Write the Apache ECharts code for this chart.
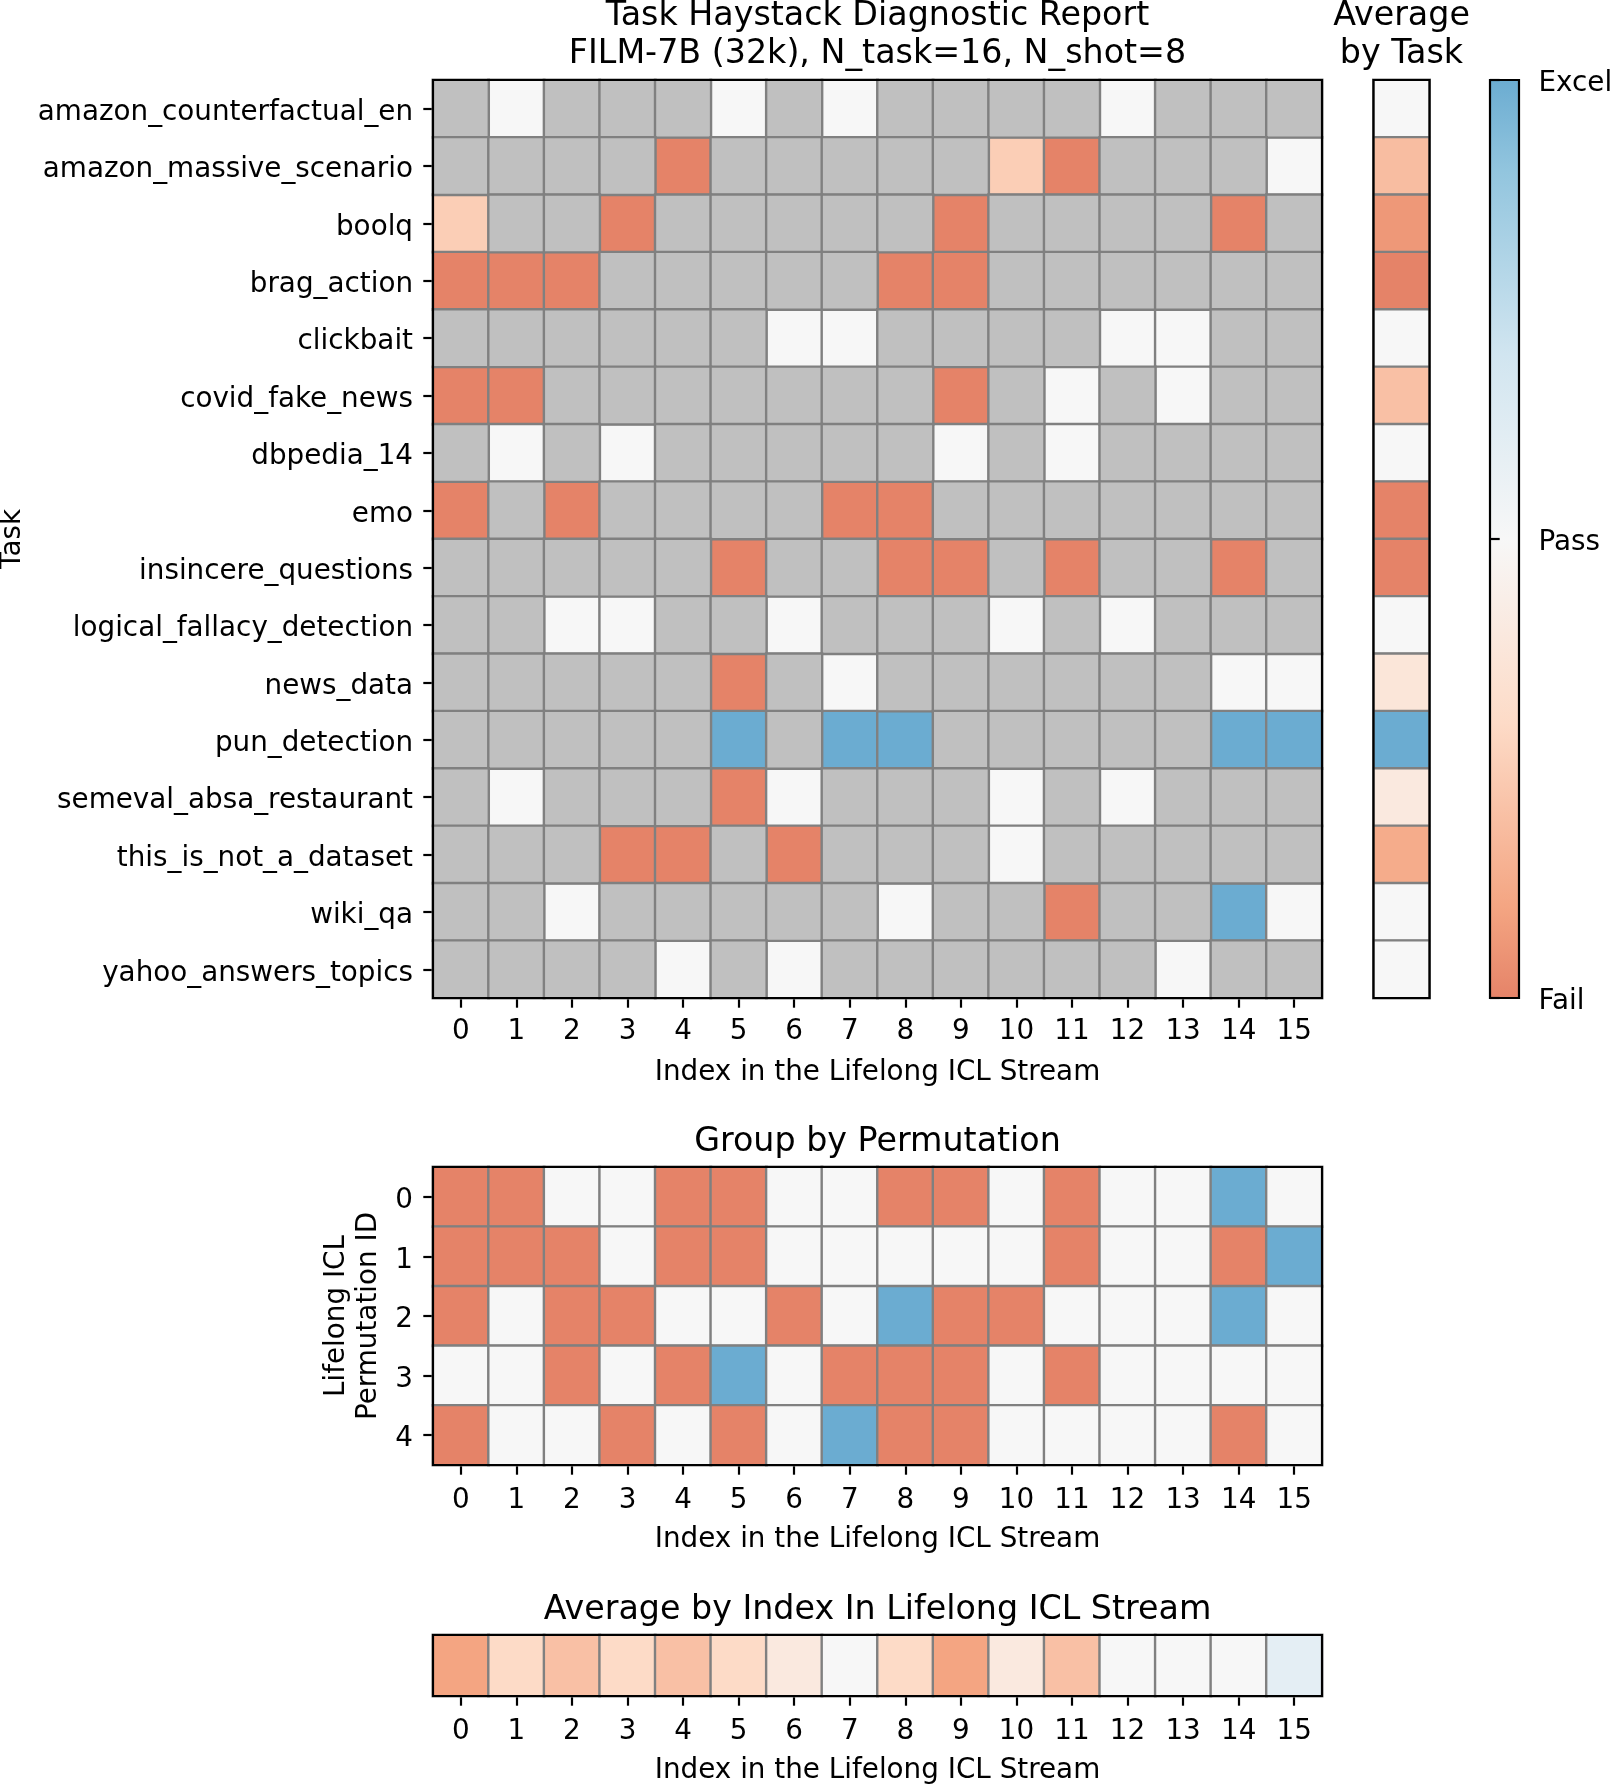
<!DOCTYPE html>
<html>
<head>
<meta charset="utf-8">
<script src="https://cdn.jsdelivr.net/npm/echarts@6/dist/echarts.min.js"></script>
<style>
html,body{margin:0;padding:0;background:#ffffff;}
#chart{width:1611px;height:1784px;}
</style>
</head>
<body>
<div id="chart"></div>
<script>
// ---------------- data ----------------
const tasks = [
  'amazon_counterfactual_en','amazon_massive_scenario','boolq','brag_action',
  'clickbait','covid_fake_news','dbpedia_14','emo','insincere_questions',
  'logical_fallacy_detection','news_data','pun_detection','semeval_absa_restaurant',
  'this_is_not_a_dataset','wiki_qa','yahoo_answers_topics'
];
const streamIndices = ['0','1','2','3','4','5','6','7','8','9','10','11','12','13','14','15'];
const permutationIds = ['0','1','2','3','4'];
const averageColumnLabel = [''];
const averageRowLabel = [''];

// -1 = Fail, 0 = Pass, 1 = Excel, null = task not at this index
const F = -1, P = 0, E = 1, N = null;
const taskIndexScores = [
  [N,P,N,N,N,P,N,P,N,N,N,N,P,N,N,N],
  [N,N,N,N,F,N,N,N,N,N,-0.5,F,N,N,N,P],
  [-0.5,N,N,F,N,N,N,N,N,F,N,N,N,N,F,N],
  [F,F,F,N,N,N,N,N,F,F,N,N,N,N,N,N],
  [N,N,N,N,N,N,P,P,N,N,N,N,P,P,N,N],
  [F,F,N,N,N,N,N,N,N,F,N,P,N,P,N,N],
  [N,P,N,P,N,N,N,N,N,P,N,P,N,N,N,N],
  [F,N,F,N,N,N,N,F,F,N,N,N,N,N,N,N],
  [N,N,N,N,N,F,N,N,F,F,N,F,N,N,F,N],
  [N,N,P,P,N,N,P,N,N,N,P,N,P,N,N,N],
  [N,N,N,N,N,F,N,P,N,N,N,N,N,N,P,P],
  [N,N,N,N,N,E,N,E,E,N,N,N,N,N,E,E],
  [N,P,N,N,N,F,P,N,N,N,P,N,P,N,N,N],
  [N,N,N,F,F,N,F,N,N,N,P,N,N,N,N,N],
  [N,N,P,N,N,N,N,N,P,N,N,F,N,N,E,P],
  [N,N,N,N,P,N,P,N,N,N,N,N,N,P,N,N]
];
const permutationIndexScores = [
  [F,F,P,P,F,F,P,P,F,F,P,F,P,P,E,P],
  [F,F,F,P,F,F,P,P,P,P,P,F,P,P,F,E],
  [F,P,F,F,P,P,F,P,E,F,F,P,P,P,E,P],
  [P,P,F,P,F,E,P,F,F,F,P,F,P,P,P,P],
  [F,P,P,F,P,F,P,E,F,F,P,P,P,P,F,P]
];
const averageByTask = [0,-0.625,-0.875,-1,0,-0.6,0,-1,-1,0,-0.25,1,-0.2,-0.75,0,0];
const averageByIndex = [-0.8,-0.4,-0.6,-0.4,-0.6,-0.4,-0.2,0,-0.4,-0.8,-0.2,-0.6,0,0,0,0.2];
const colorbarTickValues = [-1, 0, 1];
const colorbarTickLabels = ['Fail', 'Pass', 'Excel'];

// ---------------- build ----------------
const FONT = 'DejaVu Sans';
const FS = 27.8;
const TFS = 33.3;
// RdBu restricted to [0.25, 0.75], sampled every 0.2 of value range
const rampColors = ['#e58368','#f4a582','#f9c0a5','#fddbc7','#fae9df','#f7f7f7',
                    '#e4eef4','#d1e5f0','#b2d5e7','#92c5de','#6bacd1'];

const mainColored = [], mainMissing = [];
taskIndexScores.forEach((row, y) => row.forEach((v, x) => {
  if (v === null) mainMissing.push([x, y, 0]); else mainColored.push([x, y, v]);
}));
const permData = [];
permutationIndexScores.forEach((row, y) => row.forEach((v, x) => permData.push([x, y, v])));
const avgTaskData = averageByTask.map((v, y) => [0, y, v]);
const avgIndexData = averageByIndex.map((v, x) => [x, 0, v]);

const frame = {show: true, borderColor: '#000', borderWidth: 2.2, backgroundColor: 'transparent',
               z: 10, containLabel: false, outerBoundsMode: 'none'};
const hidden = {axisLine: {show: false}, axisTick: {show: false}, axisLabel: {show: false},
                splitLine: {show: false}, splitArea: {show: false}};
const tick = {show: true, alignWithLabel: true, interval: 0, inside: false, length: 9.7,
              lineStyle: {color: '#000', width: 2.2}};
const label = m => ({show: true, interval: 0, margin: m, fontSize: FS, fontFamily: FONT, color: '#000'});
// small line box anchored at the tick nudges glyphs slightly below the tick centre
const ylabel = (m, lh) => Object.assign(label(m), {verticalAlign: 'top', lineHeight: lh});
const nameStyle = {fontSize: FS, fontFamily: FONT, color: '#000'};
const cellStyle = {borderColor: '#808080', borderWidth: 2.4};
const xName = 'Index in the Lifelong ICL Stream';

const gradStops = [
  {offset: 0, color: '#e58368'}, {offset: 0.1, color: '#f4a582'}, {offset: 0.3, color: '#fddbc7'},
  {offset: 0.5, color: '#f7f7f7'}, {offset: 0.7, color: '#d1e5f0'}, {offset: 0.9, color: '#92c5de'},
  {offset: 1, color: '#6bacd1'}
];

const titleStyle = {fontSize: TFS, fontFamily: FONT, fontWeight: 'normal', color: '#000', lineHeight: 37.5};
const titleStyle1 = {fontSize: TFS, fontFamily: FONT, fontWeight: 'normal', color: '#000', lineHeight: 36.5};

const option = {
  animation: false,
  backgroundColor: '#ffffff',
  textStyle: {fontFamily: FONT},
  title: [
    {text: 'Task Haystack Diagnostic Report\nFILM-7B (32k), N_task=16, N_shot=8', left: 877.5, top: -2,
     textAlign: 'center', padding: 0, textStyle: titleStyle},
    {text: 'Average\nby Task', left: 1401.5, top: -2, textAlign: 'center', padding: 0, textStyle: titleStyle},
    {text: 'Group by Permutation', left: 877.5, top: 1124.5, textAlign: 'center', padding: 0, textStyle: titleStyle1},
    {text: 'Average by Index In Lifelong ICL Stream', left: 877.5, top: 1592.5, textAlign: 'center', padding: 0, textStyle: titleStyle1}
  ],
  grid: [
    Object.assign({left: 433, top: 80, width: 889, height: 918}, frame),
    Object.assign({left: 1373.5, top: 80, width: 56, height: 918}, frame),
    Object.assign({left: 433, top: 1167, width: 889, height: 298}, frame),
    Object.assign({left: 433, top: 1635, width: 889, height: 61}, frame),
    Object.assign({left: 1490, top: 80, width: 29, height: 918}, frame,
      {z: 0, backgroundColor: new echarts.graphic.LinearGradient(0, 1, 0, 0, gradStops)})
  ],
  xAxis: [
    Object.assign({type: 'category', gridIndex: 0, data: streamIndices, boundaryGap: true}, hidden,
      {axisTick: tick, axisLabel: label(19.5), name: xName, nameLocation: 'middle', nameGap: 60.5, nameTextStyle: nameStyle}),
    Object.assign({type: 'category', gridIndex: 1, data: averageColumnLabel, boundaryGap: true}, hidden),
    Object.assign({type: 'category', gridIndex: 2, data: streamIndices, boundaryGap: true}, hidden,
      {axisTick: tick, axisLabel: label(21.5), name: xName, nameLocation: 'middle', nameGap: 60.5, nameTextStyle: nameStyle}),
    Object.assign({type: 'category', gridIndex: 3, data: streamIndices, boundaryGap: true}, hidden,
      {axisTick: tick, axisLabel: label(22), name: xName, nameLocation: 'middle', nameGap: 60.5, nameTextStyle: nameStyle}),
    Object.assign({type: 'value', gridIndex: 4, min: 0, max: 1, show: false}, hidden)
  ],
  yAxis: [
    Object.assign({type: 'category', gridIndex: 0, data: tasks, inverse: true, boundaryGap: true}, hidden,
      {axisTick: tick, axisLabel: ylabel(20, 8), name: 'Task', nameLocation: 'middle', nameGap: 399, nameTextStyle: nameStyle}),
    Object.assign({type: 'category', gridIndex: 1, data: tasks, inverse: true, boundaryGap: true}, hidden),
    Object.assign({type: 'category', gridIndex: 2, data: permutationIds, inverse: true, boundaryGap: true}, hidden,
      {axisTick: tick, axisLabel: ylabel(20, 8), name: 'Lifelong ICL\nPermutation ID', nameLocation: 'middle',
       nameGap: 41, nameTextStyle: Object.assign({lineHeight: 32}, nameStyle)}),
    Object.assign({type: 'category', gridIndex: 3, data: averageRowLabel, boundaryGap: true}, hidden),
    Object.assign({type: 'value', gridIndex: 4, position: 'right', min: -1, max: 1, interval: 1}, hidden,
      {axisTick: {show: true, inside: false, length: 9.7, lineStyle: {color: '#000', width: 2.2}},
       axisLabel: Object.assign(ylabel(19.5, 7),
         {formatter: v => colorbarTickLabels[colorbarTickValues.indexOf(v)] || ''})})
  ],
  visualMap: [
    {type: 'continuous', show: false, min: -1, max: 1, seriesIndex: [0, 2, 3, 4], inRange: {color: rampColors}},
    {type: 'continuous', show: false, min: 0, max: 1, seriesIndex: [1], inRange: {color: ['#c0c0c0', '#c0c0c0']}}
  ],
  series: [
    {type: 'heatmap', xAxisIndex: 0, yAxisIndex: 0, data: mainColored, itemStyle: cellStyle, emphasis: {disabled: true}},
    {type: 'heatmap', xAxisIndex: 0, yAxisIndex: 0, data: mainMissing, itemStyle: cellStyle, emphasis: {disabled: true}},
    {type: 'heatmap', xAxisIndex: 1, yAxisIndex: 1, data: avgTaskData, itemStyle: cellStyle, emphasis: {disabled: true}},
    {type: 'heatmap', xAxisIndex: 2, yAxisIndex: 2, data: permData, itemStyle: cellStyle, emphasis: {disabled: true}},
    {type: 'heatmap', xAxisIndex: 3, yAxisIndex: 3, data: avgIndexData, itemStyle: cellStyle, emphasis: {disabled: true}}
  ]
};

const chart = echarts.init(document.getElementById('chart'), null, {renderer: 'canvas', width: 1611, height: 1784});
chart.setOption(option);
</script>
</body>
</html>
